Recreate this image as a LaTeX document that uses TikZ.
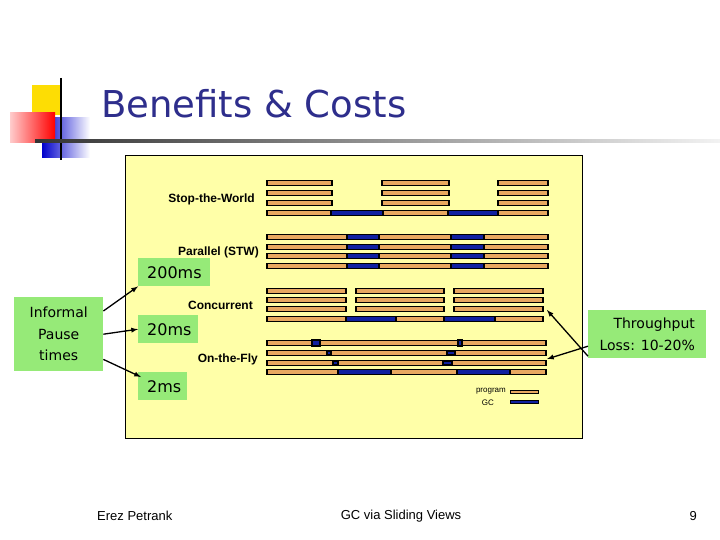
\documentclass[tikz,border=0pt]{standalone}
\usepackage{fontspec}
\setmainfont{Liberation Sans}
\newfontfamily\comic{DejaVu Sans}
\begin{document}
\begin{tikzpicture}[x=1pt,y=-1pt,
  pb/.style={fill=progc,draw=black,line width=1.2pt},
  gb/.style={fill=gcc,draw=black,line width=1.2pt},
  lab/.style={anchor=east,inner sep=0,font=\bfseries\fontsize{12}{14}\selectfont},
  gbox/.style={fill=boxg,inner sep=0,font=\comic\fontsize{16}{18}\selectfont,anchor=north west},
  arr/.style={-latex,line width=1.3pt}]
\definecolor{progc}{HTML}{E8A860}
\definecolor{gcc}{HTML}{1020A0}
\definecolor{boxg}{HTML}{96EA78}
\definecolor{panel}{HTML}{FFFFA8}
\definecolor{titlec}{HTML}{2E2E8C}
\useasboundingbox (0,0) rectangle (720,540);
\fill[white] (0,0) rectangle (720,540);
% title decoration
\fill[yellow!80!orange] (32,85) rectangle (62,115);
\shade[left color=blue!80!black,right color=white] (42,118) rectangle (90,158);
\shade[left color=red!20,right color=red] (10,113) rectangle (55,143);
\draw[line width=2pt] (61,78) -- (61,160);
\shade[left color=black!80,right color=black!5] (35,140) rectangle (720,143);
\node[anchor=base west,inner sep=0,text=titlec,font=\comic\fontsize{37}{40}\selectfont] (title) at (101,118) {Benefits \& Costs};
% panel
\draw[fill=panel,line width=0.8pt] (125,155) rectangle (582,438);
% Stop-the-World
\foreach \y in {183,193,203}{
  \draw[pb] (267,\y-2.5) rectangle (332,\y+2.5);
  \draw[pb] (382,\y-2.5) rectangle (449,\y+2.5);
  \draw[pb] (498,\y-2.5) rectangle (548,\y+2.5);}
\draw[pb] (267,210.5) rectangle (331,215.5);
\draw[gb] (331,210.5) rectangle (383,215.5);
\draw[pb] (383,210.5) rectangle (448,215.5);
\draw[gb] (448,210.5) rectangle (498,215.5);
\draw[pb] (498,210.5) rectangle (548,215.5);
\node[lab] (stw) at (255,199) {Stop-the-World};
% Parallel
\foreach \y in {237,247,256,266}{
  \draw[pb] (267,\y-2.5) rectangle (347,\y+2.5);
  \draw[gb] (347,\y-2.5) rectangle (379,\y+2.5);
  \draw[pb] (379,\y-2.5) rectangle (451,\y+2.5);
  \draw[gb] (451,\y-2.5) rectangle (484,\y+2.5);
  \draw[pb] (484,\y-2.5) rectangle (548,\y+2.5);}
\node[lab] (par) at (259,252) {Parallel (STW)};
% Concurrent
\foreach \y in {291,300,309}{
  \draw[pb] (267,\y-2.5) rectangle (346,\y+2.5);
  \draw[pb] (356,\y-2.5) rectangle (444,\y+2.5);
  \draw[pb] (454,\y-2.5) rectangle (543,\y+2.5);}
\draw[pb] (267,316.5) rectangle (346,321.5);
\draw[gb] (346,316.5) rectangle (396,321.5);
\draw[pb] (396,316.5) rectangle (444,321.5);
\draw[gb] (444,316.5) rectangle (495,321.5);
\draw[pb] (495,316.5) rectangle (543,321.5);
\node[lab] (con) at (253,305) {Concurrent};
% On-the-Fly
\foreach \y in {343,353,363,372}{\draw[pb] (267,\y-2.5) rectangle (546,\y+2.5);}
\draw[gb] (312,340) rectangle (320,346);
\draw[gb] (458,340) rectangle (462,346);
\draw[gb] (327,351) rectangle (331,355);
\draw[gb] (447,351) rectangle (455,355);
\draw[gb] (333,361) rectangle (338,365);
\draw[gb] (443,361) rectangle (452,365);
\draw[gb] (338,369.5) rectangle (391,374.5);
\draw[gb] (457,369.5) rectangle (510,374.5);
\node[lab] (otf) at (258,359) {On-the-Fly};
% legend
\node[anchor=east,inner sep=0,font=\fontsize{8}{9}\selectfont] (lp) at (506,391) {program};
\node[anchor=east,inner sep=0,font=\fontsize{8}{9}\selectfont] (lg) at (494,403) {GC};
\draw[pb,line width=0.9pt] (510,390.5) rectangle (538,393.5);
\draw[gb,line width=0.9pt] (510,400) rectangle (538,403);
% green boxes
\node[gbox,minimum width=72pt,minimum height=28pt,text width=70pt,align=left] (b200) at (138,258) {\hspace*{8pt}200ms};
\node[gbox,minimum width=60pt,minimum height=28pt,text width=58pt,align=left] (b20) at (138,315) {\hspace*{8pt}20ms};
\node[gbox,minimum width=49pt,minimum height=28pt,text width=47pt,align=left] (b2) at (138,372) {\hspace*{8pt}2ms};
\node[fill=boxg,inner sep=0,minimum width=89pt,minimum height=74pt,align=center,font=\comic\fontsize{14}{21.5}\selectfont,anchor=north west] (inf) at (14,297) {Informal\\Pause\\times};
\node[fill=boxg,inner sep=0,minimum width=118pt,minimum height=48pt,align=right,font=\comic\fontsize{14}{21.5}\selectfont,anchor=north west] (thr) at (588,310) {Throughput\\Loss: 10-20\%};
% arrows
\draw[arr] ([yshift=-14pt]inf.north east) -- (b200.south west);
\draw[arr] (inf.east) -- (b20.west);
\draw[arr] ([yshift=12pt]inf.south east) -- ([xshift=3pt,yshift=-5pt]b2.north west);
\coordinate (c1) at (547,310);
\coordinate (c2) at (547,359);
\draw[arr] ([yshift=-22pt]thr.west) -- (c1);
\draw[arr] ([yshift=-12pt]thr.west) -- (c2);
% footer
\node[anchor=west,inner sep=0,font=\fontsize{13}{15}\selectfont] (f1) at (97,516) {Erez Petrank};
\node[anchor=center,inner sep=0,font=\fontsize{13}{15}\selectfont] (f2) at (401,516) {GC via Sliding Views};
\node[anchor=east,inner sep=0,font=\fontsize{13}{15}\selectfont] (f3) at (697,516) {9};
\end{tikzpicture}
\end{document}
